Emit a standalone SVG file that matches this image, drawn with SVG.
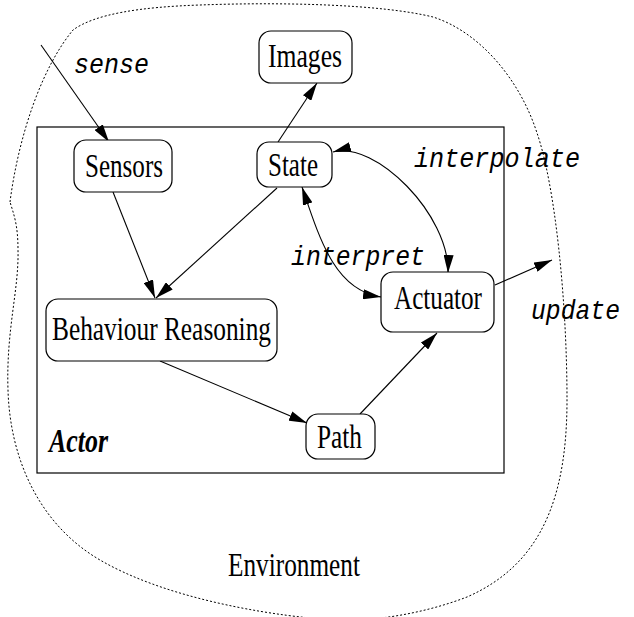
<svg xmlns="http://www.w3.org/2000/svg" width="634" height="617" viewBox="0 0 634 617">
<style>
.box{fill:#fff;stroke:#000;stroke-width:1.2}
.frame{fill:none;stroke:#000;stroke-width:1.2}
.lbl{font-family:"Liberation Serif","Times New Roman",serif;font-size:33px;fill:#000}
.mono{font-family:"Liberation Mono","Courier New",monospace;font-style:italic;font-size:28px;fill:#000}
.con{fill:none;stroke:#000;stroke-width:1.1}
.env{fill:none;stroke:#000;stroke-width:1;stroke-dasharray:2 2}
</style>
<defs>
<marker id="ah" viewBox="0 0 18 10" refX="18" refY="5" markerWidth="18" markerHeight="10" markerUnits="userSpaceOnUse" orient="auto-start-reverse">
<path d="M0,0 L18,5 L0,10 z" fill="#000"/>
</marker>
</defs>
<rect width="634" height="617" fill="#fff"/>
<g id="environment">
<path class="env" d="M10,202 C18,140 40,70 73,30 C95,14 140,7 200,5 C280,2 380,4 433,17 C480,32 520,80 537,133 C555,185 567,300 567,400 C567,500 540,565 467,597 C420,615 360,625 310,618 C250,612 160,595 100,560 C40,525 10,460 8,390 C6,330 19,290 18,250 C18,225 14,215 10,202 Z"/>
<text class="lbl" x="228" y="576" textLength="132" lengthAdjust="spacingAndGlyphs">Environment</text>
</g>
<g id="actor">
<rect class="frame" x="37" y="127" width="467" height="346"/>
<text class="lbl" x="49" y="452" font-weight="bold" font-style="italic" font-size="30" textLength="59" lengthAdjust="spacingAndGlyphs">Actor</text>
</g>
<g id="connectors">
<line class="con" x1="41" y1="45" x2="109" y2="142" marker-end="url(#ah)"/>
<line class="con" x1="278" y1="142" x2="317" y2="83" marker-end="url(#ah)"/>
<line class="con" x1="113" y1="192" x2="155" y2="298" marker-end="url(#ah)"/>
<line class="con" x1="277" y1="188" x2="156" y2="298" marker-end="url(#ah)"/>
<line class="con" x1="160" y1="361" x2="307" y2="423" marker-end="url(#ah)"/>
<line class="con" x1="360" y1="414" x2="437" y2="333" marker-end="url(#ah)"/>
<line class="con" x1="495" y1="285" x2="552" y2="260" marker-end="url(#ah)"/>
<path class="con" d="M333,152 C375,140 450,215 448,273" marker-start="url(#ah)" marker-end="url(#ah)"/>
<path class="con" d="M302,187 C320,240 335,290 381,297" marker-start="url(#ah)" marker-end="url(#ah)"/>
</g>
<g id="labels">
<text class="mono" x="74" y="73" textLength="75" lengthAdjust="spacingAndGlyphs">sense</text>
<text class="mono" x="414" y="167" textLength="166" lengthAdjust="spacingAndGlyphs">interpolate</text>
<text class="mono" x="291" y="265" textLength="134" lengthAdjust="spacingAndGlyphs">interpret</text>
<text class="mono" x="531" y="319" textLength="89" lengthAdjust="spacingAndGlyphs">update</text>
</g>
<g id="images">
<rect class="box" x="259" y="31" width="93" height="52" rx="12"/>
<text class="lbl" x="268" y="67" textLength="74" lengthAdjust="spacingAndGlyphs">Images</text>
</g>
<g id="sensors">
<rect class="box" x="74" y="140" width="98" height="52" rx="12"/>
<text class="lbl" x="85" y="177" textLength="78" lengthAdjust="spacingAndGlyphs">Sensors</text>
</g>
<g id="state">
<rect class="box" x="257" y="142" width="75" height="45" rx="12"/>
<text class="lbl" x="268" y="176" textLength="50" lengthAdjust="spacingAndGlyphs">State</text>
</g>
<g id="behaviour">
<rect class="box" x="46" y="299" width="231" height="62" rx="12"/>
<text class="lbl" x="52" y="340" textLength="219" lengthAdjust="spacingAndGlyphs">Behaviour Reasoning</text>
</g>
<g id="actuator">
<rect class="box" x="381" y="272" width="113" height="60" rx="12"/>
<text class="lbl" x="394" y="309" textLength="88" lengthAdjust="spacingAndGlyphs">Actuator</text>
</g>
<g id="path">
<rect class="box" x="306" y="414" width="69" height="45" rx="12"/>
<text class="lbl" x="317" y="448" textLength="45" lengthAdjust="spacingAndGlyphs">Path</text>
</g>
</svg>
